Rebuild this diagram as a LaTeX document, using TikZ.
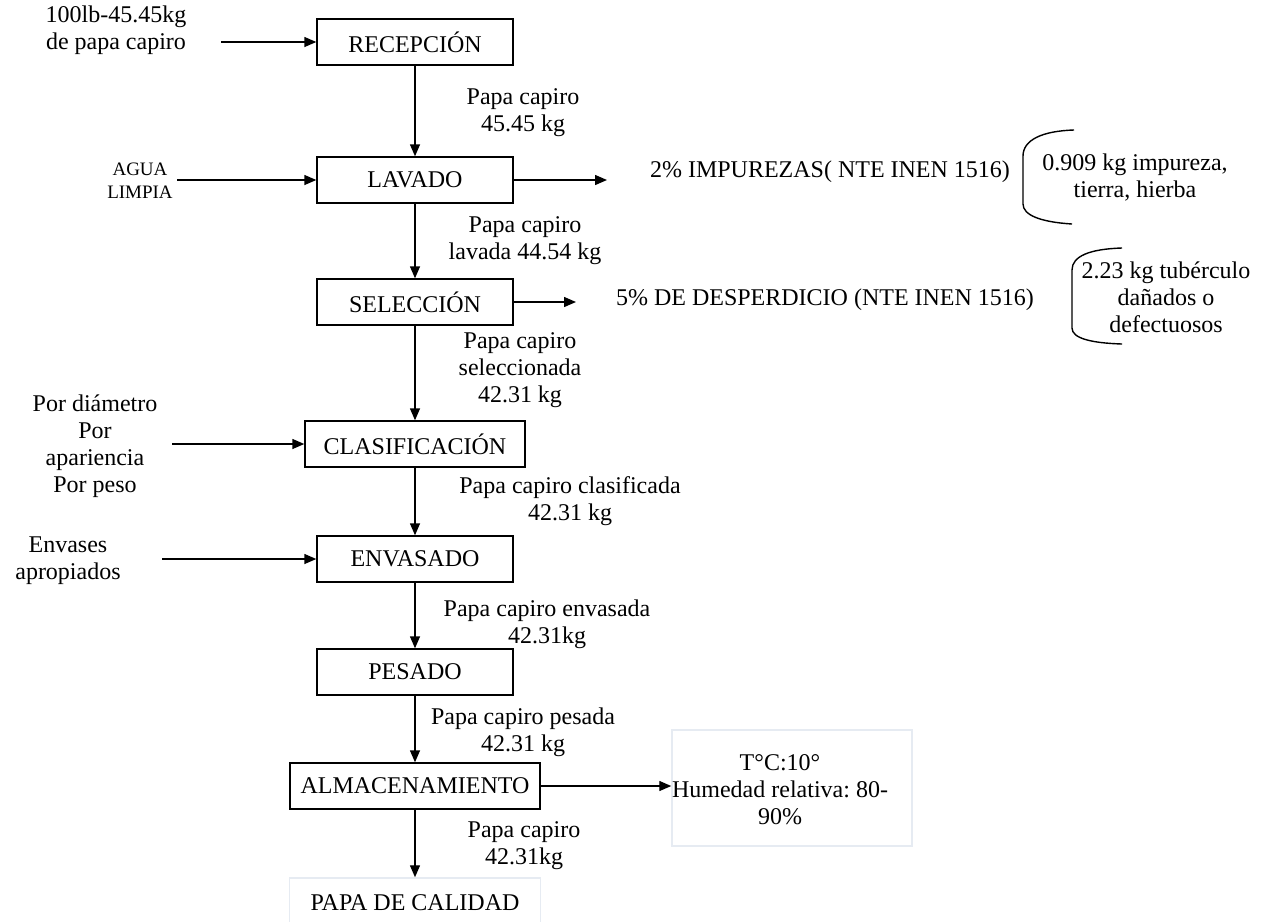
\documentclass[tikz,border=0pt]{standalone}
\usepackage{fontspec}
\setmainfont{Liberation Serif}
\usetikzlibrary{positioning,arrows.meta}
\definecolor{faint}{RGB}{230,235,242}
\frenchspacing

\begin{document}
\begin{tikzpicture}[
  x=1pt, y=-1pt,
  font=\fontsize{24}{27}\selectfont,
  fl/.style       = {-{Triangle[length=12pt,width=10pt]}, line width=1.4pt},
  stepbox/.style  = {draw, line width=1.4pt, minimum height=46pt, inner sep=2pt},
  lbl/.style      = {align=center, inner sep=1pt},
  small/.style    = {lbl, font=\fontsize{19}{23}\selectfont},
  faintbox/.style = {draw=faint, line width=1.5pt, align=center},
  brk/.style      = {line width=1.4pt},
]
\useasboundingbox (0,0) rectangle (1265,921);

% ================= process steps =======================================
\node[stepbox, minimum width=196pt] (rec) at (415,42)  {RECEPCIÓN};
\node[stepbox, minimum width=196pt] (lav) at (415,180) {LAVADO};
\node[stepbox, minimum width=196pt] (sel) at (415,302) {SELECCIÓN};
\node[stepbox, minimum width=220pt] (cla) at (415,444) {CLASIFICACIÓN};
\node[stepbox, minimum width=196pt] (env) at (415,559) {ENVASADO};
\node[stepbox, minimum width=196pt] (pes) at (415,672) {PESADO};
\node[stepbox, minimum width=250pt] (alm) at (415,786) {ALMACENAMIENTO};
\node[faintbox, minimum width=251pt, minimum height=50pt] (cal) at (415,903) {PAPA DE CALIDAD};

% ================= flow labels =========================================
\node[lbl] (f1) at (523,113) {Papa capiro\\45.45 kg};
\node[lbl] (f2) at (525,241) {Papa capiro\\lavada 44.54 kg};
\node[lbl] (f3) at (520,370) {Papa capiro\\seleccionada\\42.31 kg};
\node[lbl] (f4) at (570,501) {Papa capiro clasificada\\42.31 kg};
\node[lbl] (f5) at (547,624) {Papa capiro envasada\\42.31kg};
\node[lbl] (f6) at (523,732) {Papa capiro pesada\\42.31 kg};
\node[lbl] (f7) at (524,846) {Papa capiro\\42.31kg};

% ================= inputs ==============================================
\node[lbl]   (inrec) at (116,30)  {100lb-45.45kg\\de papa capiro};
\node[small] (inlav) at (140,181) {AGUA\\LIMPIA};
\node[lbl]   (incla) at (95,446)  {Por diámetro\\Por\\apariencia\\Por peso};
\node[lbl]   (inenv) at (68,561)  {Envases\\apropiados};
\coordinate (inrecA) at (221,42);
\coordinate (inlavA) at (177,180);
\coordinate (inclaA) at (172,444);
\coordinate (inenvA) at (162,559);

% ================= outputs =============================================
\node[lbl] (imp)  at (830,172) {2\% IMPUREZAS( NTE INEN 1516)};
\node[lbl] (desp) at (825,300) {5\% DE DESPERDICIO (NTE INEN 1516)};
\coordinate (outlav) at (607,180);
\coordinate (outsel) at (576,302);

\node[lbl] (impdet)  at (1135,178) {0.909 kg impureza,\\tierra, hierba};
\node[lbl] (danodet) at (1166,297) {2.23 kg tubérculo\\dañados o\\defectuosos};

\node[faintbox, minimum width=240pt, minimum height=116pt] (condbox) at (792,788) {};
\node[lbl] (cond) at (780,790) {T°C:10°\\Humedad relativa: 80-\\90\%};

% brackets
\draw[brk] (1074,130) .. controls (1042,131) and (1023,140) .. (1023,156)
  -- (1023,204) .. controls (1023,215) and (1040,222) .. (1072,224);
\draw[brk] (1122,248) .. controls (1090,249) and (1072,256) .. (1072,270)
  -- (1072,328) .. controls (1072,338) and (1090,343) .. (1122,344);

% ================= edges ===============================================
\draw[fl] (rec) -- (lav);
\draw[fl] (lav) -- (sel);
\draw[fl] (sel) -- (cla);
\draw[fl] (cla) -- (env);
\draw[fl] (env) -- (pes);
\draw[fl] (pes) -- (alm);
\draw[fl] (alm) -- (cal);

\draw[fl] (inrecA) -- (rec);
\draw[fl] (inlavA) -- (lav);
\draw[fl] (inclaA) -- (cla);
\draw[fl] (inenvA) -- (env);

\draw[fl] (lav) -- (outlav);
\draw[fl] (sel) -- (outsel);
\draw[fl] (alm) -- (alm -| condbox.west);

\end{tikzpicture}
\end{document}
